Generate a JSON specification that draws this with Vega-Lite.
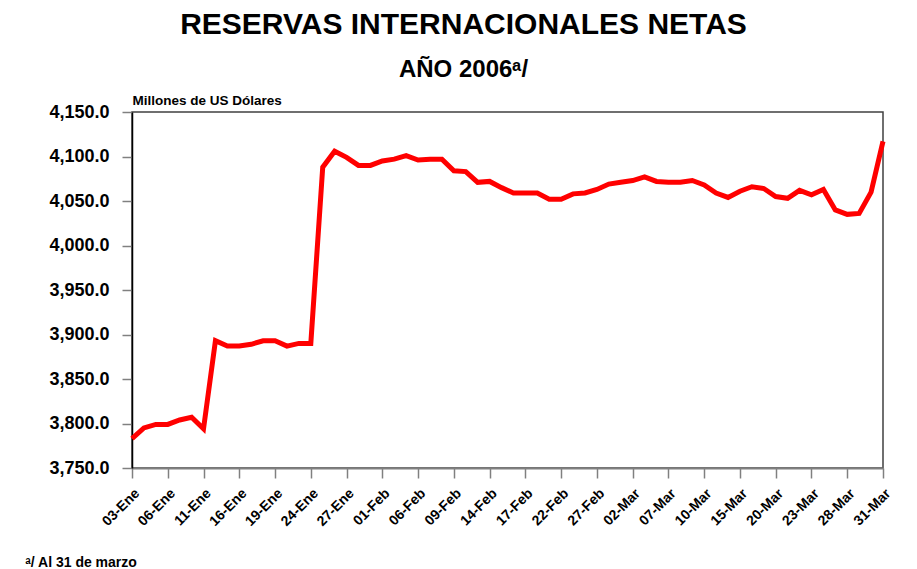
{
  "$schema": "https://vega.github.io/schema/vega-lite/v6.json",
  "width": 751,
  "height": 356,
  "autosize": {"type": "none"},
  "padding": {"left": 132, "top": 112, "right": 34, "bottom": 101},
  "background": "white",
  "title": {
    "text": "RESERVAS INTERNACIONALES NETAS",
    "subtitle": "AÑO 2006ᵃ/",
    "anchor": "middle",
    "dx": -44,
    "offset": 11,
    "font": "Liberation Sans",
    "fontSize": 30,
    "fontWeight": "bold",
    "color": "black",
    "subtitleFont": "Liberation Sans",
    "subtitleFontSize": 24,
    "subtitleFontWeight": "bold",
    "subtitleColor": "black",
    "subtitlePadding": 18
  },
  "config": {
    "view": {"stroke": "#404040", "strokeWidth": 1.5},
    "axis": {
      "labelFont": "Liberation Sans",
      "labelFontWeight": "bold",
      "labelColor": "black",
      "titleFont": "Liberation Sans",
      "titleFontWeight": "bold",
      "titleColor": "black",
      "grid": false,
      "tickColor": "#808080",
      "tickSize": 10,
      "tickWidth": 1.5
    }
  },
  "data": {
    "values": [
      {"fecha": "03-Ene", "valor": 3783},
      {"fecha": "04-Ene", "valor": 3795},
      {"fecha": "05-Ene", "valor": 3799},
      {"fecha": "06-Ene", "valor": 3799},
      {"fecha": "09-Ene", "valor": 3804},
      {"fecha": "10-Ene", "valor": 3807},
      {"fecha": "11-Ene", "valor": 3794},
      {"fecha": "12-Ene", "valor": 3893},
      {"fecha": "13-Ene", "valor": 3887},
      {"fecha": "16-Ene", "valor": 3887},
      {"fecha": "17-Ene", "valor": 3889},
      {"fecha": "18-Ene", "valor": 3893},
      {"fecha": "19-Ene", "valor": 3893},
      {"fecha": "20-Ene", "valor": 3887},
      {"fecha": "23-Ene", "valor": 3890},
      {"fecha": "24-Ene", "valor": 3890},
      {"fecha": "25-Ene", "valor": 4088},
      {"fecha": "26-Ene", "valor": 4106},
      {"fecha": "27-Ene", "valor": 4099},
      {"fecha": "30-Ene", "valor": 4090},
      {"fecha": "31-Ene", "valor": 4090},
      {"fecha": "01-Feb", "valor": 4095},
      {"fecha": "02-Feb", "valor": 4097},
      {"fecha": "03-Feb", "valor": 4101},
      {"fecha": "06-Feb", "valor": 4096},
      {"fecha": "07-Feb", "valor": 4097},
      {"fecha": "08-Feb", "valor": 4097},
      {"fecha": "09-Feb", "valor": 4084},
      {"fecha": "10-Feb", "valor": 4083},
      {"fecha": "13-Feb", "valor": 4071},
      {"fecha": "14-Feb", "valor": 4072},
      {"fecha": "15-Feb", "valor": 4065},
      {"fecha": "16-Feb", "valor": 4059},
      {"fecha": "17-Feb", "valor": 4059},
      {"fecha": "20-Feb", "valor": 4059},
      {"fecha": "21-Feb", "valor": 4052},
      {"fecha": "22-Feb", "valor": 4052},
      {"fecha": "23-Feb", "valor": 4058},
      {"fecha": "24-Feb", "valor": 4059},
      {"fecha": "27-Feb", "valor": 4063},
      {"fecha": "28-Feb", "valor": 4069},
      {"fecha": "01-Mar", "valor": 4071},
      {"fecha": "02-Mar", "valor": 4073},
      {"fecha": "03-Mar", "valor": 4077},
      {"fecha": "06-Mar", "valor": 4072},
      {"fecha": "07-Mar", "valor": 4071},
      {"fecha": "08-Mar", "valor": 4071},
      {"fecha": "09-Mar", "valor": 4073},
      {"fecha": "10-Mar", "valor": 4068},
      {"fecha": "13-Mar", "valor": 4059},
      {"fecha": "14-Mar", "valor": 4054},
      {"fecha": "15-Mar", "valor": 4061},
      {"fecha": "16-Mar", "valor": 4066},
      {"fecha": "17-Mar", "valor": 4064},
      {"fecha": "20-Mar", "valor": 4055},
      {"fecha": "21-Mar", "valor": 4053},
      {"fecha": "22-Mar", "valor": 4062},
      {"fecha": "23-Mar", "valor": 4057},
      {"fecha": "24-Mar", "valor": 4063},
      {"fecha": "27-Mar", "valor": 4040},
      {"fecha": "28-Mar", "valor": 4035},
      {"fecha": "29-Mar", "valor": 4036},
      {"fecha": "30-Mar", "valor": 4060},
      {"fecha": "31-Mar", "valor": 4117}
    ]
  },
  "mark": {"type": "line", "color": "#FF0000", "strokeWidth": 5, "strokeJoin": "miter"},
  "encoding": {
    "x": {
      "field": "fecha",
      "type": "ordinal",
      "sort": null,
      "scale": {"type": "point", "padding": 0},
      "axis": {
        "values": ["03-Ene", "06-Ene", "11-Ene", "16-Ene", "19-Ene", "24-Ene", "27-Ene", "01-Feb", "06-Feb", "09-Feb", "14-Feb", "17-Feb", "22-Feb", "27-Feb", "02-Mar", "07-Mar", "10-Mar", "15-Mar", "20-Mar", "23-Mar", "28-Mar", "31-Mar"],
        "labelAngle": -45,
        "labelFontSize": 14,
        "labelPadding": 8,
        "domainColor": "#808080",
        "domainWidth": 2,
        "title": "ᵃ/ Al 31 de marzo",
        "titleFontSize": 14,
        "titleAlign": "left",
        "titleAnchor": "start",
        "titleBaseline": "alphabetic",
        "titleX": -107,
        "titleY": 98
      }
    },
    "y": {
      "field": "valor",
      "type": "quantitative",
      "scale": {"domain": [3750, 4150], "nice": false, "zero": false},
      "axis": {
        "values": [3750, 3800, 3850, 3900, 3950, 4000, 4050, 4100, 4150],
        "format": ",.1f",
        "labelFontSize": 18,
        "labelPadding": 13,
        "domainColor": "black",
        "domainWidth": 1.5,
        "title": "Millones de US Dólares",
        "titleFontSize": 13.5,
        "titleAngle": 0,
        "titleAlign": "left",
        "titleAnchor": "start",
        "titleBaseline": "alphabetic",
        "titleX": 0,
        "titleY": -8
      }
    }
  }
}
